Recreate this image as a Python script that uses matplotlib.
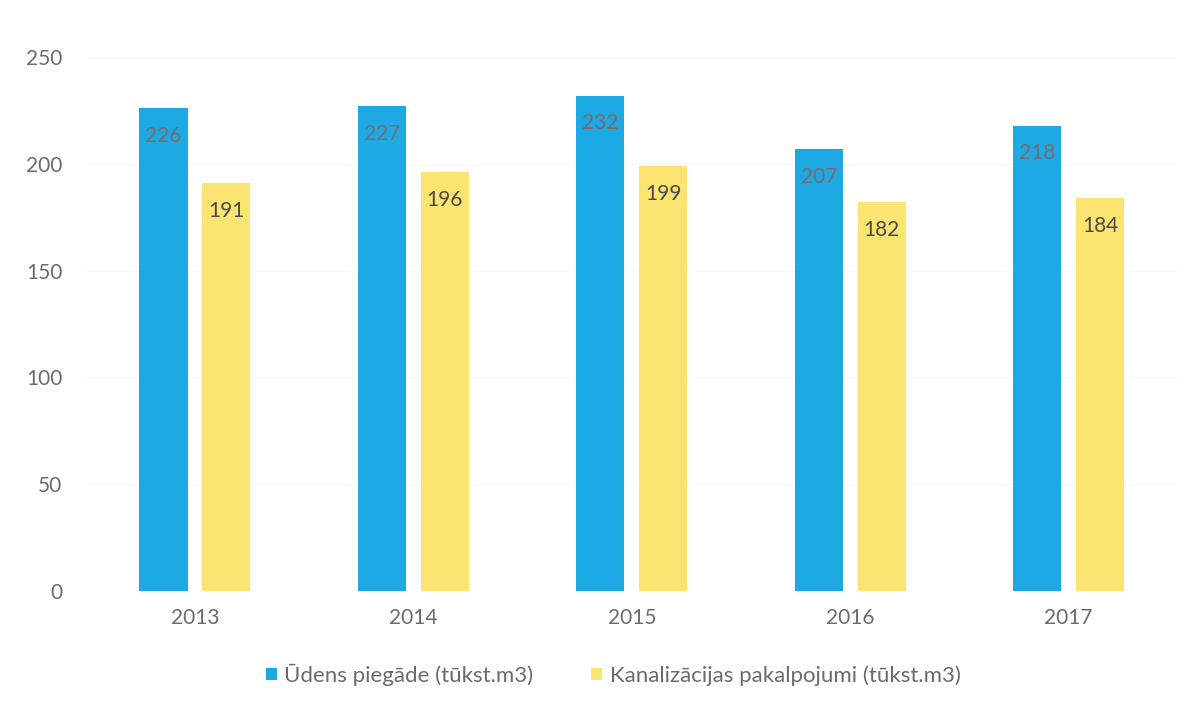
import matplotlib.pyplot as plt
import numpy as np

plt.rcParams["font.family"] = ["Lato", "DejaVu Sans"]

years = ["2013", "2014", "2015", "2016", "2017"]
water = [226, 227, 232, 207, 218]
sewer = [191, 196, 199, 182, 184]
labels = ["Ūdens piegāde (tūkst.m3)", "Kanalizācijas pakalpojumi (tūkst.m3)"]

BLUE = "#1DA9E4"
YELLOW = "#FCE470"
TEXT = "#6B6B6B"

fig = plt.figure(figsize=(11.91, 7.06), dpi=100)
ax = fig.add_axes([0.072, 0.163, 0.917, 0.756])

x = np.arange(len(years))
w = 0.22
off = 0.144
b1 = ax.bar(x - off, water, w, color=BLUE, label=labels[0], zorder=2)
b2 = ax.bar(x + off, sewer, w, color=YELLOW, label=labels[1], zorder=2)

for rect, v in zip(b1, water):
    ax.annotate(str(v), (rect.get_x() + rect.get_width() / 2, v),
                xytext=(0, -20), textcoords="offset points",
                ha="center", va="center", fontsize=15, color="#7F6A6C", zorder=3)
for rect, v in zip(b2, sewer):
    ax.annotate(str(v), (rect.get_x() + rect.get_width() / 2, v),
                xytext=(0, -20), textcoords="offset points",
                ha="center", va="center", fontsize=15, color="#4A4A4A", zorder=3)

ax.set_xlim(-0.5, len(years) - 0.5)
ax.set_ylim(0, 250)
ax.set_yticks(range(0, 251, 50))
ax.set_xticks(x)
ax.set_xticklabels(years)
ax.tick_params(axis="both", length=0, labelsize=15, labelcolor=TEXT)
ax.tick_params(axis="y", pad=17)
ax.tick_params(axis="x", pad=12)
ax.yaxis.grid(True, color="#F8F8F8", linewidth=0.8, zorder=0)
for s in ax.spines.values():
    s.set_visible(False)

fig.legend(loc="center", bbox_to_anchor=(0.515, 0.044), ncol=2, frameon=False,
           fontsize=16, labelcolor=TEXT, handlelength=0.5, handleheight=0.5,
           handletextpad=0.35, columnspacing=2.6)

fig.savefig("out.png", dpi=100, facecolor="white")
